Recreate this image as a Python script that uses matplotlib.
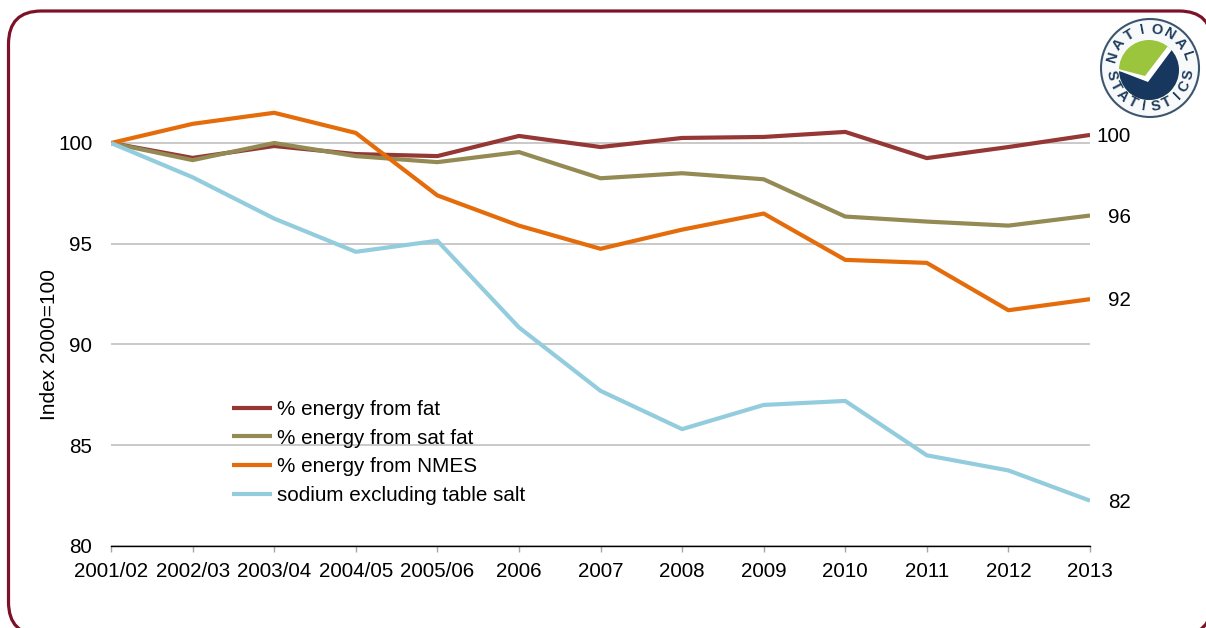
import numpy as np
import matplotlib
matplotlib.use("Agg")
import matplotlib.pyplot as plt
from matplotlib.patches import Circle, FancyBboxPatch, Polygon

plt.rcParams['font.family'] = ['Liberation Sans', 'DejaVu Sans']

years = ["2001/02", "2002/03", "2003/04", "2004/05", "2005/06", "2006", "2007",
         "2008", "2009", "2010", "2011", "2012", "2013"]
fat = [100, 99.26, 99.85, 99.45, 99.35, 100.35, 99.8, 100.25, 100.3, 100.55, 99.25, 99.8, 100.4]
sat_fat = [100, 99.15, 100, 99.35, 99.05, 99.55, 98.25, 98.5, 98.2, 96.35, 96.1, 95.9, 96.4]
nmes = [100, 100.95, 101.5, 100.5, 97.4, 95.9, 94.75, 95.7, 96.5, 94.2, 94.05, 91.7, 92.25]
sodium = [100, 98.3, 96.25, 94.6, 95.15, 90.85, 87.7, 85.8, 87, 87.2, 84.5, 83.75, 82.25]
y_ticks = [80, 85, 90, 95, 100]

W, H = 1206, 628
FS = 14.85
LW = 3.0

fig = plt.figure(figsize=(W / 100, H / 100), dpi=100)

# full figure layer in pixels, for the frame and the logo
bg = fig.add_axes([0, 0, 1, 1])
bg.set_xlim(0, W)
bg.set_ylim(H, 0)
bg.axis("off")
bg.add_patch(FancyBboxPatch((8.5, 11), 1203.5, 624, boxstyle="round,pad=0,rounding_size=33",
                            fc="white", ec="#7d1128", lw=2.3))

# logo
cx, cy = 1150, 68
bg.add_patch(Circle((cx, cy), 49, fc="#f7f9fa", ec="#3d556e", lw=1.5, zorder=3))
disc = Circle((1149, 70), 30, fc="#9bc53d", ec="none", zorder=4)
bg.add_patch(disc)
white = Polygon([(1112, 67), (1122, 70), (1145, 76), (1168, 46), (1185, 40), (1185, 90), (1112, 90)],
                fc="white", ec="none", zorder=5)
bg.add_patch(white)
white.set_clip_path(disc)
blue = Polygon([(1112, 69), (1122, 72), (1148, 82), (1174, 47), (1190, 50), (1190, 110), (1112, 110)],
               fc="#17375e", ec="none", zorder=6)
bg.add_patch(blue)
blue.set_clip_path(disc)

for word, start, stop, flip in [("NATIONAL", 163, 18, False), ("STATISTICS", 190, 350, True)]:
    angs = np.linspace(start, stop, len(word))
    for ch, a in zip(word, angs):
        px = cx + 39 * np.cos(np.radians(a))
        py = cy - 39 * np.sin(np.radians(a))
        rot = a - 90 if not flip else a + 90
        bg.text(px, py, ch, ha="center", va="center", rotation=rot, rotation_mode="anchor",
                fontsize=10.5, fontweight="bold", color="#1f3d5c", zorder=7)

# chart, 80 sits at 546 px and 100 at 143 px
left, right, bottom = 111, 1090, 546
top = 143 - 5 * (546 - 143) / 20
ax = fig.add_axes([left / W, 1 - bottom / H, (right - left) / W, (bottom - top) / H])
ax.patch.set_alpha(0)

x = np.arange(len(years))
ax.plot(x, fat, color="#953735", lw=LW, label="% energy from fat", solid_capstyle="butt")
ax.plot(x, sat_fat, color="#948a54", lw=LW, label="% energy from sat fat", solid_capstyle="butt")
ax.plot(x, nmes, color="#e46c0a", lw=LW, label="% energy from NMES", solid_capstyle="butt")
ax.plot(x, sodium, color="#93cddd", lw=LW, label="sodium excluding table salt", solid_capstyle="butt")

ax.set_xlim(0, len(years) - 1)
ax.set_ylim(80, 105)
ax.set_xticks(x)
ax.set_xticklabels(years, fontsize=FS, color="black")
ax.set_yticks(y_ticks)
ax.set_yticklabels([str(v) for v in y_ticks], fontsize=FS, color="black")
ax.tick_params(axis="x", length=4.5, width=1, color="#a6a6a6", pad=7)
ax.tick_params(axis="y", length=0, pad=13.5)
ax.grid(axis="y", color="#c0c0c0", lw=1.2)
ax.set_axisbelow(True)
for s in ["top", "left", "right"]:
    ax.spines[s].set_visible(False)
ax.spines["bottom"].set_color("black")
ax.spines["bottom"].set_linewidth(1)
ax.set_ylabel("Index 2000=100", fontsize=FS + 0.2)
ax.yaxis.set_label_coords(-0.053, 0.4)

for s in [fat, sat_fat, nmes, sodium]:
    ax.annotate(str(int(round(s[-1]))), (x[-1], s[-1]), xytext=(29.5, -1.2), textcoords="offset points",
                ha="right", va="center", fontsize=FS, annotation_clip=False)

ax.legend(loc="upper left", bbox_to_anchor=((232 - left) / (right - left), 1 - (400 - top) / (bottom - top)),
          frameon=False, fontsize=FS, handlelength=1.95, handletextpad=0.25, labelspacing=0.47,
          borderpad=0, borderaxespad=0)

fig.savefig("out.png", dpi=100)
